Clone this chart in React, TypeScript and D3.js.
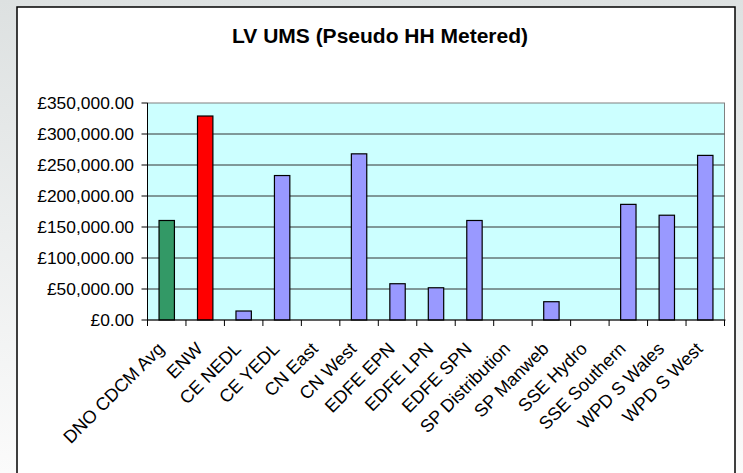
import React from "react";
import * as d3 from "d3";

const categories: string[] = [
  "DNO CDCM Avg", "ENW", "CE NEDL", "CE YEDL", "CN East", "CN West",
  "EDFE EPN", "EDFE LPN", "EDFE SPN", "SP Distribution", "SP Manweb",
  "SSE Hydro", "SSE Southern", "WPD S Wales", "WPD S West",
];
const values: number[] = [
  160500, 329000, 14500, 233000, 0, 268000,
  58500, 52000, 160500, 0, 29500,
  0, 186500, 169000, 265500,
];
const barColors: string[] = [
  "#339966", "#FF0000", "#9999FF", "#9999FF", "#9999FF", "#9999FF",
  "#9999FF", "#9999FF", "#9999FF", "#9999FF", "#9999FF",
  "#9999FF", "#9999FF", "#9999FF", "#9999FF",
];
const yTicks: number[] = [0, 50000, 100000, 150000, 200000, 250000, 300000, 350000];
const title = "LV UMS (Pseudo HH Metered)";

const W = 743, H = 473;
const left = 147.5, right = 724.5, top = 103, bottom = 320;

export default function App() {
  const x = d3.scaleBand<string>().domain(categories).range([left, right]).paddingInner(0.6).paddingOuter(0.3);
  const xOuter = d3.scaleBand<string>().domain(categories).range([left, right]);
  const y = d3.scaleLinear().domain([0, 350000]).range([bottom, top]);
  const fmt = (v: number) => "£" + d3.format(",.2f")(v);
  const font = "Arial, 'Liberation Sans', sans-serif";
  return (
    <svg width={W} height={H} style={{ position: "absolute", left: 0, top: 0 }} fontFamily={font}>
      <defs>
        <linearGradient id="bg" x1="0" y1="0" x2="0" y2="1">
          <stop offset="0" stopColor="#dde1e1" />
          <stop offset="1" stopColor="#fbfbfb" />
        </linearGradient>
      </defs>
      <rect x={0} y={0} width={W} height={H} fill="url(#bg)" />
      <rect x={17} y={7} width={718} height={H} fill="#ffffff" stroke="#000" strokeWidth={1.5} />
      <text x={380} y={43} textAnchor="middle" fontSize={21} fontWeight="bold" fill="#000">{title}</text>
      <rect x={left} y={top} width={right - left} height={bottom - top} fill="#CCFFFF" stroke="#808080" strokeWidth={1} />
      {yTicks.filter((t) => t > 0 && t < 350000).map((t) => (
        <line key={"g" + t} x1={left} x2={right} y1={y(t)} y2={y(t)} stroke="#333" strokeWidth={1} />
      ))}
      {values.map((v, i) => (
        v > 0 ? (
          <rect key={"b" + i} x={x(categories[i])!} y={y(v)} width={x.bandwidth()} height={y(0) - y(v)}
            fill={barColors[i]} stroke="#000" strokeWidth={1.2} />
        ) : null
      ))}
      <line x1={left} x2={left} y1={top} y2={bottom} stroke="#000" strokeWidth={1} />
      <line x1={left} x2={right + 1} y1={bottom} y2={bottom} stroke="#000" strokeWidth={1} />
      {yTicks.map((t) => (
        <g key={"y" + t}>
          <line x1={left - 6} x2={left} y1={y(t)} y2={y(t)} stroke="#000" />
          <text x={134} y={y(t)} dy="0.35em" textAnchor="end" fontSize={17.4} fill="#000">{fmt(t)}</text>
        </g>
      ))}
      {[...categories.map((c) => xOuter(c)!), right].map((px, i) => (
        <line key={"xt" + i} x1={px} x2={px} y1={bottom} y2={bottom + 6} stroke="#000" />
      ))}
      {categories.map((c) => {
        const cx = xOuter(c)! + xOuter.bandwidth() / 2 - 1.5;
        const cy = bottom + 30;
        return (
          <text key={"xl" + c} x={cx} y={cy} transform={`rotate(-45 ${cx} ${cy})`} textAnchor="end"
            fontSize={18} fill="#000">{c}</text>
        );
      })}
    </svg>
  );
}
